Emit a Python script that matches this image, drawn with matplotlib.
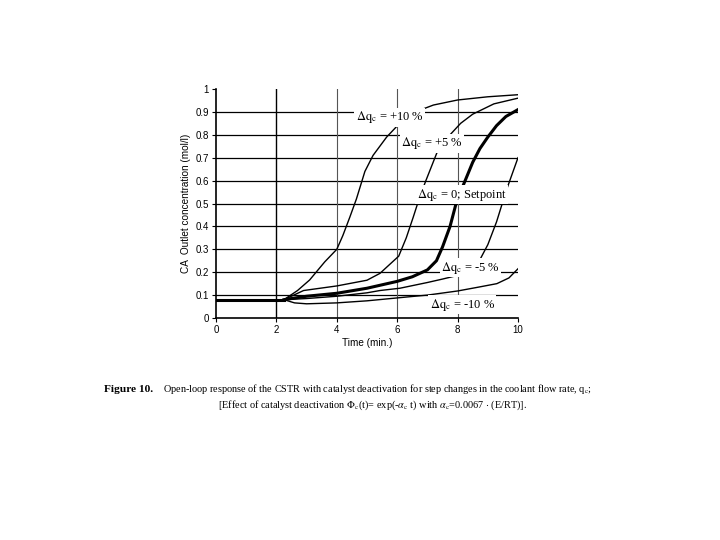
import matplotlib
matplotlib.use("Agg")
import matplotlib.pyplot as plt

plt.rcParams['mathtext.fontset'] = 'stix'

# ---- data ----
t_pre = [0.0, 2.25]
ca_pre = [0.08, 0.08]

t_p10 = [2.25, 2.7, 3.1, 3.6, 4.0, 4.2, 4.43, 4.65, 4.93, 5.2, 5.65, 6.08, 6.5, 7.2, 8.0, 9.0, 10.0]
ca_p10 = [0.08, 0.12, 0.166, 0.245, 0.30, 0.36, 0.44, 0.52, 0.64, 0.71, 0.79, 0.85, 0.895, 0.93, 0.952, 0.966, 0.975]

t_p5 = [2.25, 2.9, 4.0, 5.0, 5.43, 5.76, 6.05, 6.3, 6.53, 6.75, 6.95, 7.31, 7.75, 8.1, 8.5, 9.2, 10.0]
ca_p5 = [0.08, 0.12, 0.14, 0.165, 0.195, 0.235, 0.27, 0.35, 0.44, 0.53, 0.60, 0.72, 0.80, 0.85, 0.89, 0.935, 0.96]

t_sp = [2.25, 3.0, 4.0, 5.0, 5.5, 6.0, 6.5, 7.0, 7.3, 7.5, 7.75, 7.97, 8.25, 8.5, 8.74, 9.0, 9.29, 9.6, 10.0]
ca_sp = [0.08, 0.095, 0.108, 0.13, 0.145, 0.16, 0.18, 0.21, 0.25, 0.31, 0.40, 0.51, 0.60, 0.68, 0.74, 0.79, 0.84, 0.88, 0.91]

t_m5 = [2.25, 3.0, 4.0, 5.0, 5.43, 6.09, 7.0, 7.5, 8.13, 8.5, 8.74, 9.0, 9.29, 9.62, 10.0]
ca_m5 = [0.08, 0.085, 0.095, 0.11, 0.12, 0.13, 0.155, 0.17, 0.19, 0.22, 0.255, 0.32, 0.42, 0.56, 0.70]

t_m10 = [2.25, 2.6, 3.0, 4.0, 5.0, 6.5, 7.0, 8.0, 8.7, 9.3, 9.7, 10.0]
ca_m10 = [0.08, 0.066, 0.062, 0.066, 0.075, 0.094, 0.10, 0.118, 0.135, 0.15, 0.175, 0.215]

labels = [r'$\Delta\mathrm{q}_\mathrm{c}$ = +10 %',
          r'$\Delta\mathrm{q}_\mathrm{c}$ = +5 %',
          r'$\Delta\mathrm{q}_\mathrm{c}$ = 0; Setpoint',
          r'$\Delta\mathrm{q}_\mathrm{c}$ = -5 %',
          r'$\Delta\mathrm{q}_\mathrm{c}$ = -10 %']
label_x = [4.63, 6.14, 6.64, 7.46, 7.08]
label_y = [0.876, 0.763, 0.538, 0.22, 0.058]

xticks = [0, 2, 4, 6, 8, 10]
yticks = [0, 0.1, 0.2, 0.3, 0.4, 0.5, 0.6, 0.7, 0.8, 0.9, 1.0]
yticklabels = ['0', '0.1', '0.2', '0.3', '0.4', '0.5', '0.6', '0.7', '0.8', '0.9', '1']

# ---- figure ----
fig = plt.figure(figsize=(7.2, 5.4), dpi=100)
ax = fig.add_axes([216/720, 1-318/540, 302/720, 229/540])

sans = ['Liberation Sans', 'DejaVu Sans']
serif = ['Liberation Serif', 'DejaVu Serif']

# grid
for yv in yticks[1:-1]:
    ax.axhline(yv, color='black', lw=0.9, zorder=1)
for xv in xticks[1:-1]:
    ax.axvline(xv, color='black' if xv == 2 else '#555555', lw=1.0 if xv == 2 else 0.8, zorder=1)

ax.plot(t_pre, ca_pre, color='black', lw=2.2, zorder=3)
ax.plot(t_p10, ca_p10, color='black', lw=1.0, zorder=3)
ax.plot(t_p5, ca_p5, color='black', lw=1.0, zorder=3)
ax.plot(t_sp, ca_sp, color='black', lw=2.2, zorder=3)
ax.plot(t_m5, ca_m5, color='black', lw=1.0, zorder=3)
ax.plot(t_m10, ca_m10, color='black', lw=1.0, zorder=3)

for lab, lx, ly in zip(labels, label_x, label_y):
    ax.text(lx, ly, lab, family=serif, fontsize=9, ha='left', va='center', zorder=5,
            bbox=dict(facecolor='white', edgecolor='none', pad=1.0))

ax.set_xlim(0, 10)
ax.set_ylim(0, 1)
ax.set_xticks(xticks)
ax.set_yticks(yticks)
ax.set_yticklabels(yticklabels)
for s in ['top', 'right']:
    ax.spines[s].set_visible(False)
for s in ['left', 'bottom']:
    ax.spines[s].set_linewidth(1.2)
ax.tick_params(direction='out', length=3, width=0.8, pad=2, labelsize=7)
for lbl in ax.get_xticklabels() + ax.get_yticklabels():
    lbl.set_family(sans)
ax.set_xlabel('Time (min.)', family=sans, fontsize=7.2, labelpad=2)
ax.set_ylabel('CA  Outlet concentration (mol/l)', family=sans, fontsize=7.2, labelpad=3)

# caption
fig.text(104/720, 1-389/540, 'Figure 10.', family=serif, fontweight='bold', fontsize=8.2,
         ha='left', va='center')
fig.text(163/720, 1-389/540,
         r'Open-loop response of the CSTR with catalyst deactivation for step changes in the coolant flow rate, q$_\mathrm{c}$;',
         family=serif, fontsize=7.4, ha='left', va='center')
fig.text(218/720, 1-405/540,
         r'[Effect of catalyst deactivation $\Phi_\mathrm{c}$(t)= exp(-$\alpha_\mathrm{c}$ t) with $\alpha_\mathrm{c}$=0.0067 $\cdot$ (E/RT)].',
         family=serif, fontsize=7.4, ha='left', va='center')

fig.savefig('out.png', dpi=100)
